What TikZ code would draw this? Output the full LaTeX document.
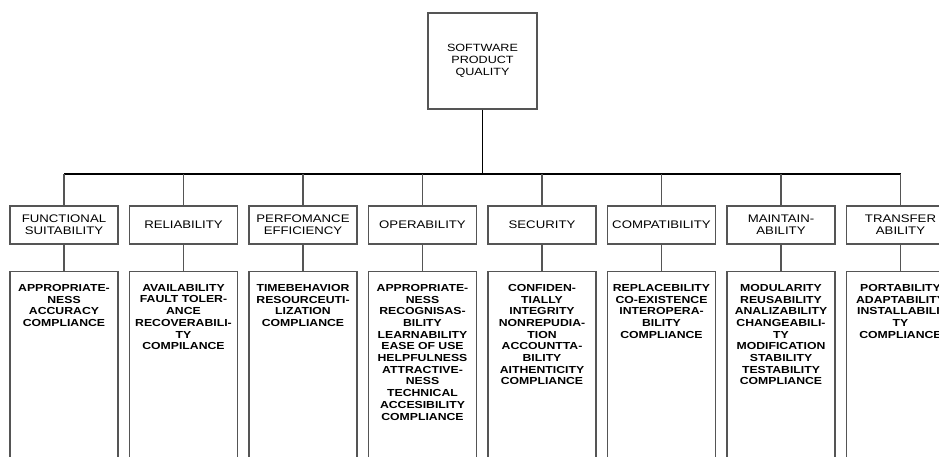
\documentclass[tikz,border=0pt]{standalone}
\usepackage{fontspec}
\usepackage{xcolor}
\usepackage{tikz}
\usetikzlibrary{positioning}
\newfontfamily\boxfont{Liberation Sans}[FakeStretch=1.2]
\definecolor{linegray}{HTML}{555555}

\begin{document}
\begin{tikzpicture}[x=1pt,y=-1pt,
  topbox/.style={draw=linegray,line width=1.2pt,minimum width=109pt,minimum height=96pt,align=center,inner sep=0pt,font=\boxfont\fontsize{10.5}{11.7}\selectfont},
  catbox/.style={draw=linegray,line width=1.2pt,minimum width=108pt,minimum height=38pt,align=center,inner sep=0pt,font=\boxfont\fontsize{11}{11.7}\selectfont},
  detbox/.style={draw=linegray,line width=1.2pt,minimum width=108pt,minimum height=200pt,anchor=north,inner sep=0pt},
  dettext/.style={align=center,inner sep=0pt,font=\boxfont\bfseries\fontsize{10.2}{11.7}\selectfont},
  link/.style={draw=linegray,line width=1.2pt}]
\clip (0,0) rectangle (939,457);

\node[topbox] (spq) at (482.5,61) {SOFTWARE\\PRODUCT\\QUALITY};
\coordinate (barL) at (64,174);
\coordinate (barR) at (900.5,174);
\draw[line width=1.2pt] (spq.south) -- (spq.south |- barL);
\draw[line width=1.2pt] (barL) -- (barR);

\node[catbox] (cat1) at (64,225) {FUNCTIONAL\\SUITABILITY};
\node[catbox] (cat2) at (183.5,225) {RELIABILITY};
\node[catbox] (cat3) at (303,225) {PERFOMANCE\\EFFICIENCY};
\node[catbox] (cat4) at (422.5,225) {OPERABILITY};
\node[catbox] (cat5) at (542,225) {SECURITY};
\node[catbox] (cat6) at (661.5,225) {COMPATIBILITY};
\node[catbox] (cat7) at (781,225) {MAINTAIN-\\ABILITY};
\node[catbox] (cat8) at (900.5,225) {TRANSFER\\ABILITY};

\node[detbox] (det1) at (64,271) {};
\node[detbox] (det2) at (183.5,271) {};
\node[detbox] (det3) at (303,271) {};
\node[detbox] (det4) at (422.5,271) {};
\node[detbox] (det5) at (542,271) {};
\node[detbox] (det6) at (661.5,271) {};
\node[detbox] (det7) at (781,271) {};
\node[detbox] (det8) at (900.5,271) {};

\node[dettext,below=13pt of det1.north] (txt1) {APPROPRIATE-\\NESS\\ACCURACY\\COMPLIANCE};
\node[dettext,below=13pt of det2.north] (txt2) {AVAILABILITY\\FAULT TOLER-\\ANCE\\RECOVERABILI-\\TY\\COMPILANCE};
\node[dettext,below=13pt of det3.north] (txt3) {TIMEBEHAVIOR\\RESOURCEUTI-\\LIZATION\\COMPLIANCE};
\node[dettext,below=13pt of det4.north] (txt4) {APPROPRIATE-\\NESS\\RECOGNISAS-\\BILITY\\LEARNABILITY\\EASE OF USE\\HELPFULNESS\\ATTRACTIVE-\\NESS\\TECHNICAL\\ACCESIBILITY\\COMPLIANCE};
\node[dettext,below=13pt of det5.north] (txt5) {CONFIDEN-\\TIALLY\\INTEGRITY\\NONREPUDIA-\\TION\\ACCOUNTTA-\\BILITY\\AITHENTICITY\\COMPLIANCE};
\node[dettext,below=13pt of det6.north] (txt6) {REPLACEBILITY\\CO-EXISTENCE\\INTEROPERA-\\BILITY\\COMPLIANCE};
\node[dettext,below=13pt of det7.north] (txt7) {MODULARITY\\REUSABILITY\\ANALIZABILITY\\CHANGEABILI-\\TY\\MODIFICATION\\STABILITY\\TESTABILITY\\COMPLIANCE};
\node[dettext,below=13pt of det8.north] (txt8) {PORTABILITY\\ADAPTABILITY\\INSTALLABILI-\\TY\\COMPLIANCE};

% drops from the bar and links to the detail boxes
\draw[link] (cat1.north) -- (cat1.north |- barL);
\draw[link] (cat2.north) -- (cat2.north |- barL);
\draw[link] (cat3.north) -- (cat3.north |- barL);
\draw[link] (cat4.north) -- (cat4.north |- barL);
\draw[link] (cat5.north) -- (cat5.north |- barL);
\draw[link] (cat6.north) -- (cat6.north |- barL);
\draw[link] (cat7.north) -- (cat7.north |- barL);
\draw[link] (cat8.north) -- (cat8.north |- barL);
\draw[link] (cat1) -- (det1);
\draw[link] (cat2) -- (det2);
\draw[link] (cat3) -- (det3);
\draw[link] (cat4) -- (det4);
\draw[link] (cat5) -- (det5);
\draw[link] (cat6) -- (det6);
\draw[link] (cat7) -- (det7);
\draw[link] (cat8) -- (det8);
\end{tikzpicture}
\end{document}
